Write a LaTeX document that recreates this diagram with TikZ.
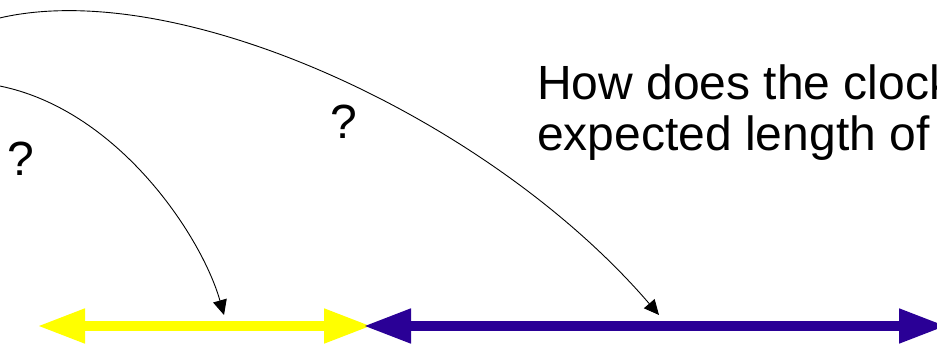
\documentclass[tikz,border=0pt]{standalone}
\usepackage{fontspec}
\setmainfont{Liberation Sans}
\usetikzlibrary{arrows.meta}
\definecolor{spanyellow}{HTML}{FFFF00}
\definecolor{spanindigo}{HTML}{2A0096}
\tikzset{interval/.style={{Triangle[length=48pt,width=32pt]}-{Triangle[length=48pt,width=32pt]},line width=10.5pt},guess/.style={-{Triangle[length=15pt,width=14pt]},line width=.9pt},query/.style={inner sep=0pt,font=\fontsize{48}{55}\selectfont},prompt/.style={inner sep=0pt,anchor=base west,font=\fontsize{48}{55}\selectfont}}

\begin{document}
\begin{tikzpicture}[x=1pt,y=-1pt]
\useasboundingbox (0,0) rectangle (937,343);
\clip (0,0) rectangle (937,343);
\coordinate (yl) at (37,326);\coordinate (yr) at (372,326);
\coordinate (bl) at (363,326);\coordinate (br) at (947,326);
\draw[interval,spanyellow] (yl)--(yr);
\draw[interval,spanindigo] (bl)--(br);
\coordinate (near) at (-40,82);\coordinate (far) at (-60,42);
\coordinate (hitY) at (224,315);\coordinate (hitB) at (659,315);
\draw[guess] (near) .. controls (100,82) and (200,230) .. (hitY);
\draw[guess] (far) .. controls (100,-58) and (470,95) .. (hitB);
\node[query] (qY) at (21,159) {?};
\node[query] (qB) at (344,122) {?};
\node[prompt] (ask) at (537,99) {How does the clock};
\node[prompt] (askb) at (537,150) {expected length of};
\end{tikzpicture}
\end{document}
